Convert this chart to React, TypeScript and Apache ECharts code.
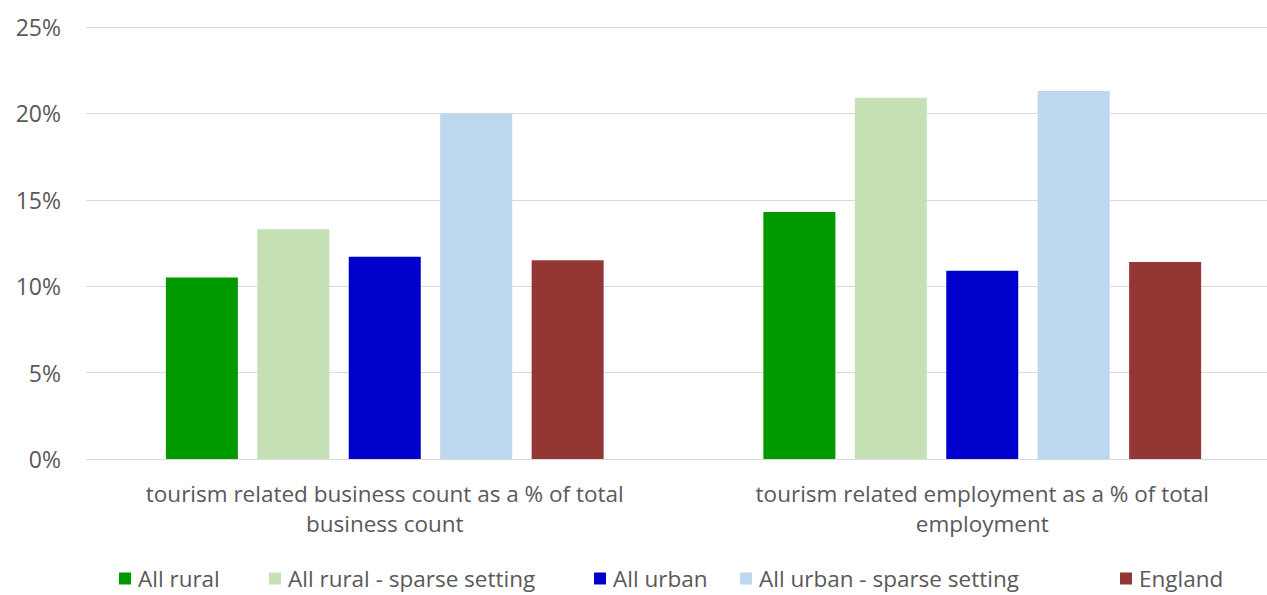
import React, { useEffect, useRef } from "react";
import * as echarts from "echarts";

const categories = [
  "tourism related business count as a % of total\nbusiness count",
  "tourism related employment as a % of total\nemployment",
];
const seriesNames = [
  "All rural",
  "All rural - sparse setting",
  "All urban",
  "All urban - sparse setting",
  "England",
];
const allRural = [10.5, 14.3];
const allRuralSparse = [13.3, 20.9];
const allUrban = [11.7, 10.9];
const allUrbanSparse = [20.0, 21.3];
const england = [11.5, 11.4];
const colors = ["#009900", "#c5e0b4", "#0000cc", "#bdd7ee", "#943634"];
const yTicks = [0, 5, 10, 15, 20, 25];

export default function App() {
  const ref = useRef<HTMLDivElement>(null);
  useEffect(() => {
    if (!ref.current) return;
    const chart = echarts.init(ref.current, null, { renderer: "svg" });
    const values = [allRural, allRuralSparse, allUrban, allUrbanSparse, england];
    const font = "'Open Sans', sans-serif";
    const legendLefts = [114, 264, 589, 735, 1115];
    chart.setOption({
      animation: false,
      textStyle: { fontFamily: font },
      grid: { left: 86, right: 0, top: 27, bottom: 136 },
      legend: seriesNames.map((name, i) => ({
        top: 562,
        left: legendLefts[i],
        itemWidth: 12,
        itemHeight: 12,
        icon: "rect",
        textStyle: { fontSize: 22.5, color: "#595959", fontFamily: font, padding: [0, 0, 0, 2] },
        data: [name],
      })),
      xAxis: {
        type: "category",
        data: categories,
        axisLine: { lineStyle: { color: "#d9d9d9" } },
        axisTick: { show: false },
        axisLabel: {
          interval: 0,
          color: "#595959",
          fontSize: 22.5,
          lineHeight: 30,
          margin: 19,
          fontFamily: font,
        },
      },
      yAxis: {
        type: "value",
        min: yTicks[0],
        max: yTicks[yTicks.length - 1],
        interval: 5,
        axisLine: { show: false },
        axisTick: { show: false },
        splitLine: { lineStyle: { color: "#d9d9d9" } },
        axisLabel: {
          formatter: "{value}%",
          color: "#595959",
          fontSize: 23,
          margin: 25,
          fontFamily: font,
        },
      },
      series: seriesNames.map((name, i) => ({
        name,
        type: "bar",
        data: values[i],
        barWidth: 72,
        barGap: "27%",
        itemStyle: { color: colors[i] },
      })),
    });
    return () => chart.dispose();
  }, []);
  return (
    <div style={{ width: 1267, height: 595, position: "absolute", left: 0, top: 0, overflow: "hidden" }}>
      <div ref={ref} style={{ width: 1281, height: 595 }} />
    </div>
  );
}
